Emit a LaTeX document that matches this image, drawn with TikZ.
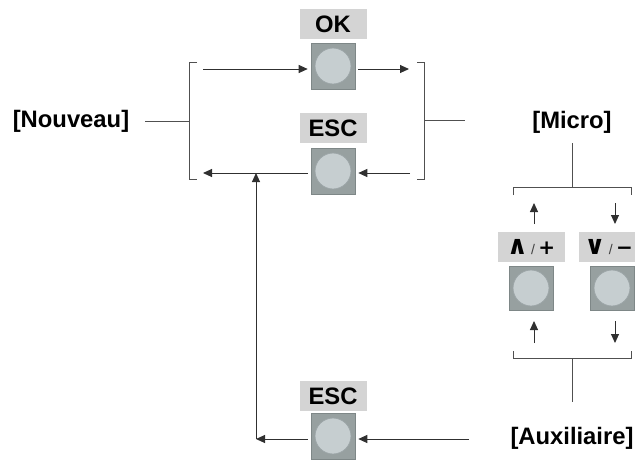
\documentclass[tikz,border=0pt]{standalone}
\usepackage{fontspec}
\setmainfont{Liberation Sans}
\newfontfamily\djv{DejaVu Sans}
\usetikzlibrary{arrows.meta}
\definecolor{lblgray}{HTML}{D4D4D4}
\definecolor{btnsq}{HTML}{97A0A0}
\definecolor{btnedge}{HTML}{7E8787}
\definecolor{btncirc}{HTML}{C6CED0}
\definecolor{btncircedge}{HTML}{9CA5A7}
\definecolor{linec}{HTML}{303030}
\definecolor{brkc}{HTML}{505050}
\begin{document}
\begin{tikzpicture}[x=1pt,y=-1pt,
  bigtext/.style={font=\bfseries\fontsize{23.8}{28}\selectfont, inner sep=0pt},
  keylabel/.style={fill=lblgray, minimum width=67pt, minimum height=30pt, inner sep=0pt, font=\bfseries\fontsize{23.8}{28}\selectfont},
  symlabel/.style={keylabel, font=\fontsize{20}{22}\selectfont},
  keybtn/.style={fill=btnsq, draw=btnedge, line width=0.6pt, minimum width=44pt, minimum height=46pt, inner sep=0pt,
    path picture={\fill[btncirc, draw=btncircedge, line width=0.8pt] (path picture bounding box.center) circle (18pt);}},
  conn/.style={linec, line width=1pt},
  arr/.style={conn, -{Triangle[length=9pt,width=8pt]}},
  brk/.style={brkc, line width=0.9pt}
]
\path[use as bounding box] (0,0) rectangle (635,459);
\clip (0,0) rectangle (635,459);

% keys
\node[keylabel] (oklbl) at (333,24) {OK};
\node[keybtn] (okbtn) at (333,66) {};
\node[keylabel] (esclbl) at (333,128) {ESC};
\node[keybtn] (escbtn) at (333,171) {};
\node[keylabel] (esctwolbl) at (333,396) {ESC};
\node[keybtn] (esctwobtn) at (333,436) {};
\node[symlabel] (pluslbl) at (531,247) {{\djv\bfseries\fontsize{26}{26}\selectfont ∧}\,{\fontsize{14}{14}\selectfont\color{darkgray}/}\,{\djv\bfseries +}};
\node[keybtn, minimum height=44pt] (plusbtn) at (531,288) {};
\node[symlabel, anchor=west, minimum width=56pt] (minuslbl) at (579,247) {\hspace{3pt}{\djv\bfseries\fontsize{26}{26}\selectfont ∨}\,{\fontsize{14}{14}\selectfont\color{darkgray}/}\,{\djv\bfseries −}\hspace{1pt}};
\node[keybtn, minimum height=44pt] (minusbtn) at (612,288) {};

% texts
\node[bigtext] (nouveau) at (71,121) {[Nouveau]};
\node[bigtext] (micro) at (572,122) {[Micro]};
\node[bigtext] (aux) at (572,438) {[Auxiliaire]};

% coordinates
\coordinate (nvEnd) at (145,121);
\coordinate (lbM) at (189,121);
\coordinate (rbM) at (424,120);
\coordinate (mcL) at (465,120);
\coordinate (okIn) at (203,69);
\coordinate (okOut) at (409,69);
\coordinate (escR) at (410,173);
\coordinate (escL) at (203,173);
\coordinate (junc) at (256,173);
\coordinate (corner) at (256,439);
\coordinate (auxL) at (469,439);

% brackets
\draw[brk] (197,62) -- (189,62) -- (189,179) -- (197,179);
\draw[brk] (417,62) -- (424,62) -- (424,179) -- (417,179);
\draw[brk] (513,195) -- (513,187) -- (631,187) -- (631,195);
\draw[brk] (513,351) -- (513,358) -- (631,358) -- (631,351);

% side lines
\draw[brk] (nvEnd) -- (lbM);
\draw[brk] (rbM) -- (mcL);
\draw[brk] (572,143) -- (572,187);
\draw[brk] (572,358) -- (572,402);

% arrows upper
\draw[arr, shorten >=3pt] (okIn) -- (okIn -| okbtn.west);
\draw[arr, shorten <=3pt] (okbtn.east |- okOut) -- (okOut);
\draw[arr, shorten >=3pt] (escR) -- (escR -| escbtn.east);
\draw[arr, shorten <=3pt] (escbtn.west |- escL) -- (escL);
\draw[arr] (corner) -- (junc);
\draw[arr, shorten >=3pt] (auxL) -- (auxL -| esctwobtn.east);
\draw[arr, shorten <=3pt] (esctwobtn.west |- corner) -- (corner);

% micro arrows
\draw[arr] (534,224) -- (534,203);
\draw[arr] (615,203) -- (615,224);
\draw[arr] (534,343) -- (534,321);
\draw[arr] (615,321) -- (615,343);
\end{tikzpicture}
\end{document}
